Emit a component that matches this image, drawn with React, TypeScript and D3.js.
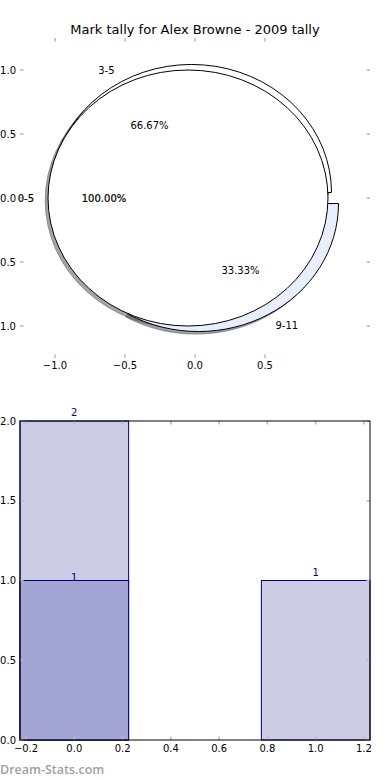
import React from 'react';
import * as d3 from 'd3';

// chart values
const title = 'Mark tally for Alex Browne - 2009 tally';
const fullLabels = ['0-5'];
const fullValues = [3];
const bandLabels = ['3-5', '9-11'];
const bandValues = [2, 1];
const bandColors = ['#ffffff', '#e8eefc'];
const explode = 0.05;
const pieXTicks = [-1.0, -0.5, 0.0, 0.5];
const pieYTicks = [-1.0, -0.5, 0.0, 0.5, 1.0];

const barPositions = [0, 1];
const lightValues = [2, 1];
const darkValues = [1];
const barXTicks = [-0.2, 0, 0.2, 0.4, 0.6, 0.8, 1.0, 1.2];
const barYTicks = [0, 0.5, 1, 1.5, 2];

const font = 'DejaVu Sans';
const tickColor = '#b8b8b8';
const fmt = d3.format('.1f');

const xPie = d3.scaleLinear().domain([-1.25, 1.25]).range([20, 370]);
const yPie = d3.scaleLinear().domain([-1.25, 1.25]).range([358, 38]);
const sx = xPie(1) - xPie(0);
const sy = yPie(0) - yPie(1);

const xBar = d3.scaleLinear().domain([-0.225, 1.225]).range([20, 370]);
const yBar = d3.scaleLinear().domain([0, 2]).range([740, 421]);
const barWidth = 0.45;

const pieGen = d3
  .pie<number>()
  .sort(null)
  .value((d) => d)
  .startAngle(Math.PI / 2)
  .endAngle(Math.PI / 2 - 2 * Math.PI);
const arcGen = d3.arc<any>().innerRadius(0).outerRadius(1);

function layout(values: number[], labels: string[], colors: string[]) {
  const total = d3.sum(values);
  return pieGen(values).map((a, i) => {
    const mid = (a.startAngle + a.endAngle) / 2;
    const dx = Math.sin(mid);
    const dy = Math.cos(mid);
    const cx = explode * dx;
    const cy = explode * dy;
    return {
      path: arcGen(a) as string,
      cx,
      cy,
      color: colors[i],
      label: labels[i],
      lx: cx + 1.1 * dx,
      ly: cy + 1.1 * dy,
      px: cx + 0.6 * dx,
      py: cy + 0.6 * dy,
      pct: ((values[i] / total) * 100).toFixed(2) + '%',
    };
  });
}

const bandWedges = layout(bandValues, bandLabels, bandColors);
const fullWedges = layout(fullValues, fullLabels, ['#ffffff']);

function shade(c: string) {
  const r = d3.rgb(c);
  return d3.rgb(r.r * 0.3, r.g * 0.3, r.b * 0.3).formatHex();
}

const Wedge = ({ w, shadow }: { w: any; shadow?: boolean }) => {
  const ox = shadow ? -0.02 : 0;
  const oy = shadow ? -0.02 : 0;
  const fill = shadow ? shade(w.color) : w.color;
  return (
    <path
      d={w.path}
      transform={`translate(${xPie(w.cx + ox)},${yPie(w.cy + oy)}) scale(${sx},${sy})`}
      fill={fill}
      fillOpacity={shadow ? 0.5 : 1}
      stroke={shadow ? fill : '#000'}
      strokeOpacity={shadow ? 0.5 : 1}
      strokeWidth={1}
      vectorEffect="non-scaling-stroke"
    />
  );
};

const WedgeText = ({ w, bold }: { w: any; bold?: boolean }) => (
  <g fontFamily={font} fontSize={10} fill="#000" stroke={bold ? '#000' : 'none'} strokeWidth={0.2}>
    <text x={xPie(w.lx)} y={yPie(w.ly)} dy="0.35em" textAnchor={w.lx < 0 ? 'end' : 'start'}>
      {w.label}
    </text>
    <text x={xPie(w.px)} y={yPie(w.py)} dy="0.35em" textAnchor="middle">
      {w.pct}
    </text>
  </g>
);

const App = () => {
  return (
    <svg width={390} height={780} style={{ position: 'absolute', left: 0, top: 0 }}>
      <rect width={390} height={780} fill="#fff" />
      <text x={195} y={34} textAnchor="middle" fontFamily={font} fontSize={13}>
        {title}
      </text>

      {/* pie axes ticks */}
      <g stroke={tickColor} strokeWidth={1.5}>
        {pieXTicks.map((t) => (
          <g key={'px' + t}>
            <line x1={xPie(t)} x2={xPie(t)} y1={yPie(1.25)} y2={yPie(1.25) + 3.5} />
            <line x1={xPie(t)} x2={xPie(t)} y1={yPie(-1.25)} y2={yPie(-1.25) - 3.5} />
          </g>
        ))}
        {pieYTicks.map((t) => (
          <g key={'py' + t}>
            <line x1={xPie(-1.25)} x2={xPie(-1.25) + 3.5} y1={yPie(t)} y2={yPie(t)} />
            <line x1={xPie(1.25)} x2={xPie(1.25) - 3.5} y1={yPie(t)} y2={yPie(t)} />
          </g>
        ))}
      </g>
      <g fontFamily={font} fontSize={10} fill="#000">
        {pieXTicks.map((t) => (
          <text key={'pxl' + t} x={xPie(t)} y={368.5} textAnchor="middle">
            {fmt(t)}
          </text>
        ))}
        {pieYTicks.map((t) => (
          <text key={'pyl' + t} x={16} y={yPie(t)} dy="0.35em" textAnchor="end">
            {fmt(t)}
          </text>
        ))}
      </g>

      {/* shadows first, then the split pie, then the full pie on top */}
      {bandWedges.map((w, i) => (
        <Wedge key={'bs' + i} w={w} shadow />
      ))}
      {fullWedges.map((w, i) => (
        <Wedge key={'fs' + i} w={w} shadow />
      ))}
      {bandWedges.map((w, i) => (
        <Wedge key={'b' + i} w={w} />
      ))}
      {fullWedges.map((w, i) => (
        <Wedge key={'f' + i} w={w} />
      ))}
      {bandWedges.map((w, i) => (
        <WedgeText key={'bt' + i} w={w} />
      ))}
      {fullWedges.map((w, i) => (
        <WedgeText key={'ft' + i} w={w} bold />
      ))}

      {/* bar chart */}
      {lightValues.map((v, i) => (
        <rect
          key={'l' + i}
          x={xBar(barPositions[i] - barWidth / 2)}
          y={yBar(v)}
          width={xBar(barWidth) - xBar(0)}
          height={yBar(0) - yBar(v)}
          fill="#ccccE5"
          stroke="#000080"
          strokeWidth={1}
        />
      ))}
      {darkValues.map((v, i) => (
        <rect
          key={'d' + i}
          x={xBar(barPositions[i] - barWidth / 2)}
          y={yBar(v)}
          width={xBar(barWidth) - xBar(0)}
          height={yBar(0) - yBar(v)}
          fill="#a3a5d2"
          stroke="#000080"
          strokeWidth={1}
        />
      ))}
      <g stroke={tickColor} strokeWidth={1.5}>
        {barXTicks.map((t) => (
          <g key={'bx' + t}>
            <line x1={xBar(t)} x2={xBar(t)} y1={yBar(2)} y2={yBar(2) + 3.5} />
            <line x1={xBar(t)} x2={xBar(t)} y1={yBar(0)} y2={yBar(0) - 3.5} />
          </g>
        ))}
        {barYTicks.map((t) => (
          <g key={'by' + t}>
            <line x1={xBar(-0.225)} x2={xBar(-0.225) + 3.5} y1={yBar(t)} y2={yBar(t)} />
            <line x1={xBar(1.225)} x2={xBar(1.225) - 3.5} y1={yBar(t)} y2={yBar(t)} />
          </g>
        ))}
      </g>
      <rect x={20} y={yBar(2)} width={350} height={yBar(0) - yBar(2)} fill="none" stroke="#000" strokeWidth={1} />
      <g fontFamily={font} fontSize={10} fill="#000080" textAnchor="middle">
        {lightValues.map((v, i) => (
          <text key={'ll' + i} x={xBar(barPositions[i])} y={yBar(v + 0.03)}>
            {v}
          </text>
        ))}
        {darkValues.map((v, i) => (
          <text key={'dl' + i} x={xBar(barPositions[i])} y={yBar(v)}>
            {v}
          </text>
        ))}
      </g>
      <g fontFamily={font} fontSize={10} fill="#000">
        {barXTicks.map((t) => (
          <text key={'bxl' + t} x={xBar(t)} y={752} textAnchor="middle">
            {fmt(t)}
          </text>
        ))}
        {barYTicks.map((t) => (
          <text key={'byl' + t} x={16} y={yBar(t)} dy="0.35em" textAnchor="end">
            {fmt(t)}
          </text>
        ))}
      </g>

      <text x={0} y={774} fontFamily="Open Sans" fontWeight={600} fontSize={12.5} fill="#a0a0a0">
        Dream-Stats.com
      </text>
    </svg>
  );
};

export default App;
